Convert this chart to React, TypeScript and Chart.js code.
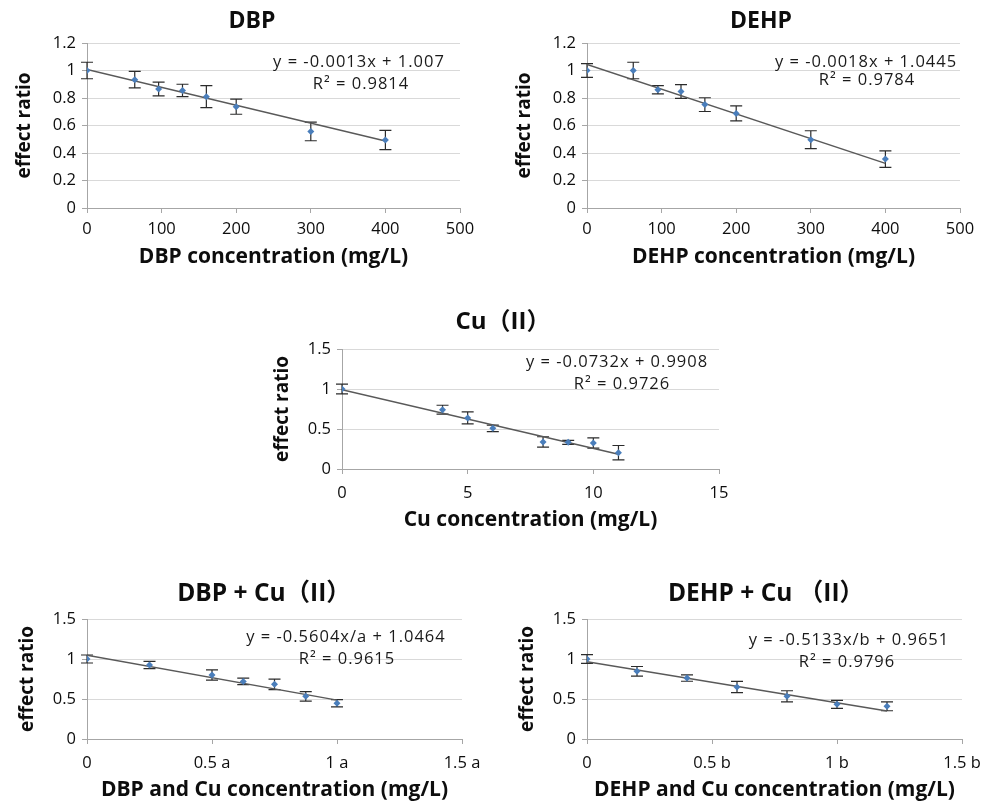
import React, { useEffect, useRef } from 'react';
import { Chart, registerables } from 'chart.js';

Chart.register(...registerables);

const FONT = "'Open Sans', 'Noto Sans CJK SC', sans-serif";
Chart.defaults.font.family = FONT;

// ---------- data ----------
const dbpConc = [0, 64, 96, 128, 160, 200, 300, 400];
const dbpRatio = [1.0, 0.933, 0.865, 0.855, 0.81, 0.737, 0.557, 0.495];
const dbpErr = [0.06, 0.06, 0.05, 0.045, 0.08, 0.055, 0.068, 0.07];
const dbpFit = [-0.0013, 1.007, 400]; // slope, intercept, last x

const dehpConc = [0, 62, 95, 126, 158, 200, 300, 400];
const dehpRatio = [1.0, 1.0, 0.86, 0.848, 0.752, 0.688, 0.497, 0.356];
const dehpErr = [0.05, 0.06, 0.03, 0.05, 0.05, 0.055, 0.065, 0.06];
const dehpFit = [-0.0018, 1.0445, 400];

const cuConc = [0, 4, 5, 6, 8, 9, 10, 11];
const cuRatio = [1.0, 0.742, 0.638, 0.508, 0.338, 0.333, 0.325, 0.204];
const cuErr = [0.06, 0.055, 0.075, 0.04, 0.065, 0.025, 0.065, 0.09];
const cuFit = [-0.0732, 0.9908, 11];

const dbpCuConc = [0, 0.25, 0.5, 0.625, 0.75, 0.875, 1.0];
const dbpCuRatio = [1.0, 0.925, 0.8, 0.72, 0.683, 0.533, 0.446];
const dbpCuErr = [0.05, 0.045, 0.065, 0.04, 0.065, 0.06, 0.045];
const dbpCuFit = [-0.5604, 1.0464, 1.0];

const dehpCuConc = [0, 0.2, 0.4, 0.6, 0.8, 1.0, 1.2];
const dehpCuRatio = [1.0, 0.846, 0.762, 0.65, 0.533, 0.433, 0.408];
const dehpCuErr = [0.055, 0.06, 0.04, 0.07, 0.07, 0.05, 0.055];
const dehpCuFit = [-0.5133, 0.9651, 1.2];

const xTicksConc = ['0', '100', '200', '300', '400', '500'];
const xTicksCu = ['0', '5', '10', '15'];
const xTicksA = ['0', '0.5 a', '1 a', '1.5 a'];
const xTicksB = ['0', '0.5 b', '1 b', '1.5 b'];
const yTicks12 = ['0', '0.2', '0.4', '0.6', '0.8', '1', '1.2'];
const yTicks15 = ['0', '0.5', '1', '1.5'];

const titles = ['DBP', 'DEHP', 'Cu（II）', 'DBP + Cu（II）', 'DEHP + Cu （II）'];
const xTitles = [
  'DBP concentration (mg/L)',
  'DEHP concentration (mg/L)',
  'Cu concentration (mg/L)',
  'DBP and Cu concentration (mg/L)',
  'DEHP and Cu concentration (mg/L)',
];
const equations = [
  ['y = -0.0013x + 1.007', 'R² = 0.9814'],
  ['y = -0.0018x + 1.0445', 'R² = 0.9784'],
  ['y = -0.0732x + 0.9908', 'R² = 0.9726'],
  ['y = -0.5604x/a + 1.0464', 'R² = 0.9615'],
  ['y = -0.5133x/b + 0.9651', 'R² = 0.9796'],
];
const yLabel = 'effect ratio';

// ---------- layout / style ----------
type Panel = {
  left: number; top: number; w: number; h: number;
  L: number; R: number; T: number; B: number;
  titleX: number; titleY: number; titleSize: number;
  yTitleX: number; xTitleY: number;
  eq1: [number, number]; eq2: [number, number];
  xs: number[]; ys: number[]; errs: number[]; fit: number[];
  xMax: number; xStep: number; xLabels: string[];
  yMax: number; yStep: number; yLabels: string[];
  idx: number; xTickPad: number;
};

const panels: Panel[] = [
  {
    left: 0, top: 0, w: 500, h: 275, L: 87, R: 460, T: 43, B: 208,
    titleX: 252, titleY: 21, titleSize: 23, yTitleX: 25, xTitleY: 257,
    eq1: [272, 19], eq2: [274, 41],
    xs: dbpConc, ys: dbpRatio, errs: dbpErr, fit: dbpFit,
    xMax: 500, xStep: 100, xLabels: xTicksConc, yMax: 1.2, yStep: 0.2, yLabels: yTicks12, idx: 0, xTickPad: 6,
  },
  {
    left: 500, top: 0, w: 500, h: 275, L: 87, R: 460, T: 43, B: 208,
    titleX: 261, titleY: 21, titleSize: 23, yTitleX: 25, xTitleY: 257,
    eq1: [279, 19], eq2: [280, 37],
    xs: dehpConc, ys: dehpRatio, errs: dehpErr, fit: dehpFit,
    xMax: 500, xStep: 100, xLabels: xTicksConc, yMax: 1.2, yStep: 0.2, yLabels: yTicks12, idx: 1, xTickPad: 6,
  },
  {
    left: 250, top: 300, w: 500, h: 240, L: 92, R: 469, T: 49, B: 169,
    titleX: 253, titleY: 22, titleSize: 24, yTitleX: 33, xTitleY: 220,
    eq1: [275, 13], eq2: [280, 35],
    xs: cuConc, ys: cuRatio, errs: cuErr, fit: cuFit,
    xMax: 15, xStep: 5, xLabels: xTicksCu, yMax: 1.5, yStep: 0.5, yLabels: yTicks15, idx: 2, xTickPad: 9,
  },
  {
    left: 0, top: 570, w: 500, h: 237, L: 87, R: 462, T: 49, B: 169,
    titleX: 264, titleY: 24, titleSize: 24.5, yTitleX: 28, xTitleY: 220,
    eq1: [259, 18], eq2: [260, 40],
    xs: dbpCuConc, ys: dbpCuRatio, errs: dbpCuErr, fit: dbpCuFit,
    xMax: 1.5, xStep: 0.5, xLabels: xTicksA, yMax: 1.5, yStep: 0.5, yLabels: yTicks15, idx: 3, xTickPad: 9,
  },
  {
    left: 500, top: 570, w: 504, h: 237, L: 87, R: 462, T: 49, B: 169,
    titleX: 266, titleY: 24, titleSize: 24.5, yTitleX: 28, xTitleY: 220,
    eq1: [262, 21], eq2: [260, 43],
    xs: dehpCuConc, ys: dehpCuRatio, errs: dehpCuErr, fit: dehpCuFit,
    xMax: 1.5, xStep: 0.5, xLabels: xTicksB, yMax: 1.5, yStep: 0.5, yLabels: yTicks15, idx: 4, xTickPad: 9,
  },
];

const POINT_COLOR = '#4a7ebb';
const LINE_COLOR = '#595959';
const AXIS_COLOR = '#a6a6a6';
const GRID_COLOR = '#d9d9d9';
const TEXT_COLOR = '#0d0d0d';

function makePlugin(p: Panel) {
  return {
    id: 'panelDecor' + p.idx,
    beforeDatasetsDraw(chart: any) {
      const ctx = chart.ctx;
      const xs = chart.scales.x;
      const ys = chart.scales.y;
      ctx.save();
      ctx.strokeStyle = '#2b2b2b';
      ctx.lineWidth = 1.2;
      p.xs.forEach((xv, i) => {
        const px = xs.getPixelForValue(xv);
        const top = ys.getPixelForValue(p.ys[i] + p.errs[i]);
        const bot = ys.getPixelForValue(p.ys[i] - p.errs[i]);
        ctx.beginPath();
        ctx.moveTo(px, top);
        ctx.lineTo(px, bot);
        ctx.moveTo(px - 6, top);
        ctx.lineTo(px + 6, top);
        ctx.moveTo(px - 6, bot);
        ctx.lineTo(px + 6, bot);
        ctx.stroke();
      });
      ctx.restore();
    },
    afterDraw(chart: any) {
      const ctx = chart.ctx;
      const area = chart.chartArea;
      ctx.save();
      ctx.fillStyle = TEXT_COLOR;
      ctx.textAlign = 'center';
      ctx.textBaseline = 'middle';
      ctx.font = `bold ${p.titleSize}px ${FONT}`;
      ctx.fillText(titles[p.idx], p.titleX, p.titleY);
      ctx.font = `16.5px ${FONT}`;
      try { (ctx as any).letterSpacing = '1px'; } catch (e) { /* ignore */ }
      ctx.fillStyle = '#1a1a1a';
      ctx.fillText(equations[p.idx][0], area.left + p.eq1[0], area.top + p.eq1[1]);
      ctx.fillText(equations[p.idx][1], area.left + p.eq2[0], area.top + p.eq2[1]);
      ctx.restore();
    },
  };
}

function PanelChart({ p }: { p: Panel }) {
  const ref = useRef<HTMLCanvasElement>(null);
  useEffect(() => {
    if (!ref.current) return;
    const [slope, intercept, xEnd] = p.fit;
    const chart = new Chart(ref.current, {
      type: 'scatter',
      data: {
        datasets: [
          {
            type: 'scatter',
            data: p.xs.map((x, i) => ({ x, y: p.ys[i] })),
            pointStyle: 'rectRot',
            pointRadius: 3.5,
            backgroundColor: POINT_COLOR,
            borderColor: POINT_COLOR,
            borderWidth: 0,
            order: 0,
          } as any,
          {
            type: 'line',
            data: [
              { x: 0, y: intercept },
              { x: xEnd, y: slope * xEnd + intercept },
            ],
            borderColor: LINE_COLOR,
            borderWidth: 1.5,
            pointRadius: 0,
            showLine: true,
            fill: false,
            order: 1,
          } as any,
        ],
      },
      options: {
        animation: false,
        responsive: false,
        maintainAspectRatio: false,
        events: [],
        layout: { padding: { top: p.T, right: p.w - p.R, left: 0, bottom: 0 } },
        plugins: {
          legend: { display: false },
          tooltip: { enabled: false },
          title: { display: false },
        },
        scales: {
          x: {
            type: 'linear',
            min: 0,
            max: p.xMax,
            ticks: {
              stepSize: p.xStep,
              color: TEXT_COLOR,
              font: { size: 16.5, family: FONT },
              padding: p.xTickPad,
              maxRotation: 0,
              autoSkip: false,
              callback: (_v: any, i: number) => p.xLabels[i],
            },
            grid: {
              display: true,
              drawOnChartArea: false,
              drawTicks: true,
              tickLength: 5,
              color: AXIS_COLOR,
              tickColor: AXIS_COLOR,
            },
            border: { display: true, color: AXIS_COLOR, width: 1 },
            title: {
              display: true,
              text: xTitles[p.idx],
              color: TEXT_COLOR,
              font: { size: 21, weight: 'bold', family: FONT },
              padding: { top: 0, bottom: p.h - p.xTitleY - 12.6 },
            },
            afterFit: (s: any) => { s.height = p.h - p.B; },
          },
          y: {
            type: 'linear',
            min: 0,
            max: p.yMax,
            ticks: {
              stepSize: p.yStep,
              color: TEXT_COLOR,
              font: { size: 16.5, family: FONT },
              padding: 6,
              autoSkip: false,
              callback: (_v: any, i: number) => p.yLabels[i],
            },
            grid: {
              color: GRID_COLOR,
              drawTicks: true,
              tickLength: 5,
              tickColor: AXIS_COLOR,
            },
            border: { display: true, color: AXIS_COLOR, width: 1 },
            title: {
              display: true,
              text: yLabel,
              color: TEXT_COLOR,
              font: { size: 19, weight: 'bold', family: FONT },
              padding: { top: p.yTitleX - 11.4, bottom: 0 },
            },
            afterFit: (s: any) => { s.width = p.L; },
          },
        },
      } as any,
      plugins: [makePlugin(p)],
    });
    return () => chart.destroy();
  }, [p]);
  return (
    <canvas
      ref={ref}
      width={p.w}
      height={p.h}
      style={{ position: 'absolute', left: p.left, top: p.top, width: p.w, height: p.h }}
    />
  );
}

export default function App() {
  return (
    <div style={{ position: 'absolute', left: 0, top: 0, width: 1004, height: 807, background: '#ffffff', overflow: 'hidden' }}>
      {panels.map((p) => (
        <PanelChart key={p.idx} p={p} />
      ))}
    </div>
  );
}
